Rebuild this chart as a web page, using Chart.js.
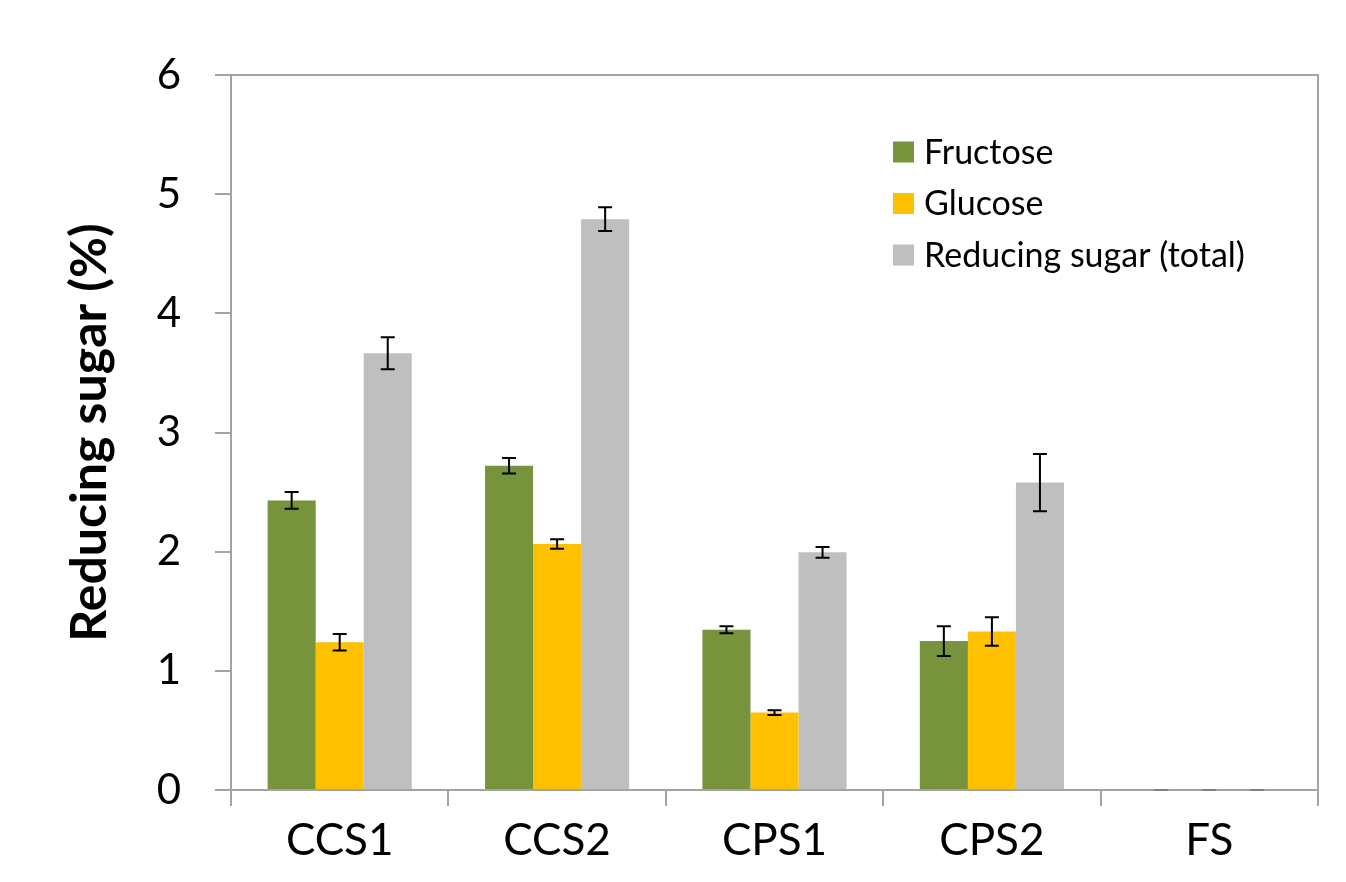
<!DOCTYPE html>
<html>
<head>
<meta charset="utf-8">
<script src="https://cdn.jsdelivr.net/npm/chart.js@4"></script>
<style>
  html, body { margin: 0; padding: 0; background: #ffffff; }
  #wrap { width: 1346px; height: 882px; }
</style>
</head>
<body>
<div id="wrap"><canvas id="chart" width="1346" height="882"></canvas></div>
<script>
// Samples and measured sugar contents (%), with standard deviations
const categories = ['CCS1', 'CCS2', 'CPS1', 'CPS2', 'FS'];
const fructose = [2.43, 2.72, 1.345, 1.25, 0];
const fructoseErr = [0.07, 0.065, 0.03, 0.125, 0];
const glucose = [1.24, 2.065, 0.65, 1.33, 0];
const glucoseErr = [0.07, 0.04, 0.02, 0.12, 0];
const totalSugar = [3.665, 4.79, 1.995, 2.58, 0];
const totalSugarErr = [0.135, 0.1, 0.045, 0.24, 0];
const yTicks = [0, 1, 2, 3, 4, 5, 6];

const FONT = 'Lato, "Open Sans", sans-serif';
const AXIS_GREY = '#a3a3a3';

// Error bars (with caps) drawn over each bar from the error arrays
const errorBars = {
  id: 'errorBars',
  afterDatasetsDraw(chart) {
    const ctx = chart.ctx;
    const y = chart.scales.y;
    ctx.save();
    ctx.lineWidth = 2;
    chart.data.datasets.forEach((ds, di) => {
      const meta = chart.getDatasetMeta(di);
      meta.data.forEach((bar, i) => {
        const v = ds.data[i];
        const e = ds.errors[i];
        const yHi = y.getPixelForValue(v + e);
        const yLo = y.getPixelForValue(v - e);
        const cap = 7;
        ctx.beginPath();
        if (e > 0) {
          ctx.strokeStyle = '#000000';
          ctx.moveTo(bar.x, yHi);
          ctx.lineTo(bar.x, yLo);
          ctx.moveTo(bar.x - cap, yHi);
          ctx.lineTo(bar.x + cap, yHi);
          ctx.moveTo(bar.x - cap, yLo);
          ctx.lineTo(bar.x + cap, yLo);
        } else {
          ctx.strokeStyle = '#808080';
          ctx.moveTo(bar.x - cap, yHi);
          ctx.lineTo(bar.x + cap, yHi);
        }
        ctx.stroke();
      });
    });
    ctx.restore();
  }
};

// Top and right edges of the plot frame
const frame = {
  id: 'frame',
  beforeDatasetsDraw(chart) {
    const { ctx, chartArea: a } = chart;
    ctx.save();
    ctx.strokeStyle = AXIS_GREY;
    ctx.lineWidth = 2;
    ctx.beginPath();
    ctx.moveTo(a.left, a.top);
    ctx.lineTo(a.right, a.top);
    ctx.lineTo(a.right, a.bottom);
    ctx.stroke();
    ctx.restore();
  }
};

// Legend boxes inside the plot, upper right
const insideLegend = {
  id: 'insideLegend',
  afterDraw(chart) {
    const ctx = chart.ctx;
    ctx.save();
    ctx.font = '34px ' + FONT;
    ctx.textBaseline = 'middle';
    chart.data.datasets.forEach((ds, i) => {
      const cy = 152 + i * 51.5;
      ctx.fillStyle = ds.backgroundColor;
      ctx.fillRect(893, cy - 10.5, 21, 21);
      ctx.fillStyle = '#000000';
      ctx.fillText(ds.label, 924, cy + 1);
    });
    ctx.restore();
  }
};

new Chart(document.getElementById('chart'), {
  type: 'bar',
  data: {
    labels: categories,
    datasets: [
      { label: 'Fructose', data: fructose, errors: fructoseErr, backgroundColor: '#77933c' },
      { label: 'Glucose', data: glucose, errors: glucoseErr, backgroundColor: '#ffc000' },
      { label: 'Reducing sugar (total)', data: totalSugar, errors: totalSugarErr, backgroundColor: '#bfbfbf' }
    ]
  },
  options: {
    responsive: false,
    animation: false,
    layout: { padding: { top: 75, right: 28, left: 0, bottom: 0 } },
    datasets: { bar: { categoryPercentage: 0.663, barPercentage: 1.0 } },
    plugins: {
      legend: { display: false },
      tooltip: { enabled: false }
    },
    scales: {
      x: {
        grid: {
          offset: true,
          drawOnChartArea: false,
          drawTicks: true,
          tickLength: 16,
          color: AXIS_GREY,
          lineWidth: 2
        },
        border: { display: true, color: AXIS_GREY, width: 2 },
        ticks: {
          color: '#000000',
          font: { family: FONT, size: 44 },
          padding: 8,
          maxRotation: 0
        },
        afterFit(scale) { scale.height = 92; }
      },
      y: {
        min: 0,
        max: 6,
        afterBuildTicks(scale) { scale.ticks = yTicks.map(v => ({ value: v })); },
        grid: {
          drawOnChartArea: false,
          drawTicks: true,
          tickLength: 16,
          color: AXIS_GREY,
          lineWidth: 2
        },
        border: { display: true, color: AXIS_GREY, width: 2 },
        ticks: {
          color: '#000000',
          font: { family: FONT, size: 42 },
          padding: 34
        },
        title: {
          display: true,
          text: 'Reducing sugar (%)',
          color: '#000000',
          font: { family: FONT, size: 50, weight: 'bold' },
          padding: { top: 60, bottom: 0 }
        },
        afterFit(scale) { scale.width = 231; }
      }
    }
  },
  plugins: [frame, errorBars, insideLegend]
});
</script>
</body>
</html>
